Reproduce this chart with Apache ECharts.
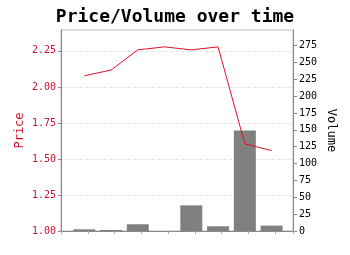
<!DOCTYPE html>
<html><head><meta charset="utf-8">
<script src="https://cdn.jsdelivr.net/npm/echarts@6/dist/echarts.min.js"></script>
<style>html,body{margin:0;padding:0;background:#fff}#c{width:350px;height:255px}</style>
</head><body><div id="c"></div>
<script>
var categories = ['t1','t2','t3','t4','t5','t6','t7','t8'];
var price = [2.077, 2.117, 2.257, 2.278, 2.257, 2.278, 1.605, 1.558];
var volume = [2.5, 1.5, 10, 0, 38, 7, 149, 8];
var priceTicks = {min: 1.0, max: 2.395, interval: 0.25};
var volumeTicks = {min: 0, max: 298, interval: 25};

var mono = 'DejaVu Sans Mono';
var chart = echarts.init(document.getElementById('c'));
chart.setOption({
  animation: false,
  title: {text: 'Price/Volume over time', left: 'center', top: 3,
    textStyle: {fontFamily: mono, fontWeight: 'bold', fontSize: 18, color: '#000'}},
  grid: {left: 61, right: 57, top: 30, bottom: 24, show: true, borderColor: '#bbb', borderWidth: 1},
  xAxis: {type: 'value', min: -0.87, max: 7.8, interval: 1,
    axisLine: {show: true, onZero: false, lineStyle: {color: '#888'}},
    axisTick: {show: true, length: 3, lineStyle: {color: '#aaa'}},
    axisLabel: {show: false}, splitLine: {show: false}},
  yAxis: [
    {type: 'value', min: priceTicks.min, max: priceTicks.max, interval: priceTicks.interval,
     name: 'Price', nameLocation: 'middle', nameGap: 35, nameRotate: 90, nameMoveOverlap: false,
     nameTextStyle: {fontFamily: mono, fontSize: 12, color: '#d0102a'},
     axisLine: {show: true, onZero: false, lineStyle: {color: '#888'}},
     axisTick: {show: true, length: 3, lineStyle: {color: '#888'}},
     axisLabel: {fontFamily: mono, fontSize: 10, color: '#d0102a', margin: 5, showMaxLabel: false,
       formatter: function(v){return v.toFixed(2);}},
     splitLine: {show: true, lineStyle: {color: '#e4e4e4', type: 'dashed'}}},
    {type: 'value', min: volumeTicks.min, max: volumeTicks.max, interval: volumeTicks.interval,
     name: 'Volume', nameLocation: 'middle', nameGap: 32, nameRotate: -90, nameMoveOverlap: false,
     nameTextStyle: {fontFamily: mono, fontSize: 12, color: '#000'},
     axisLine: {show: true, onZero: false, lineStyle: {color: '#888'}},
     axisTick: {show: true, length: 4, lineStyle: {color: '#888'}},
     axisLabel: {fontFamily: mono, fontSize: 10, color: '#000', margin: 6, showMaxLabel: false},
     splitLine: {show: false}}
  ],
  series: [
    {type: 'bar', yAxisIndex: 1, barWidth: 22,
     data: volume.map(function(v,i){return [i, v];}),
     itemStyle: {color: '#808080'}},
    {type: 'line', yAxisIndex: 0, showSymbol: false, symbol: 'none',
     data: price.map(function(v,i){return [i, v];}),
     lineStyle: {color: '#e0102a', width: 1}, z: 3}
  ]
});
</script></body></html>
